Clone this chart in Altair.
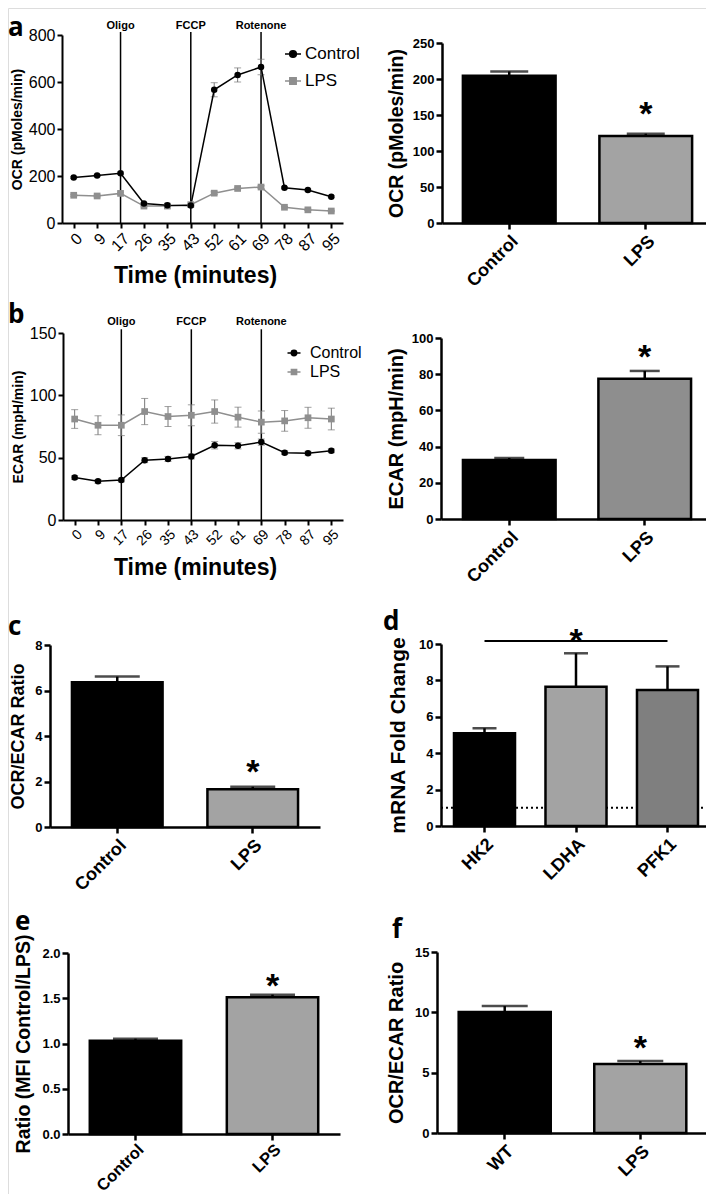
import altair as alt
import pandas as pd

# ---------------- data ----------------
times = ["0", "9", "17", "26", "35", "43", "52", "61", "69", "78", "87", "95"]
series = ["Control", "LPS"]
events = ["Oligo", "FCCP", "Rotenone"]
event_times = ["17", "43", "69"]

ocr_control = [194, 202, 212, 83, 76, 74, 567, 630, 664, 150, 140, 112]
ocr_control_err = [4, 4, 5, 4, 3, 3, 30, 30, 33, 4, 4, 4]
ocr_lps = [118, 115, 126, 72, 72, 78, 127, 147, 153, 67, 56, 51]
ocr_lps_err = [4, 4, 5, 3, 3, 3, 6, 5, 6, 3, 3, 3]

ecar_control = [34, 31, 32, 48, 49, 51, 60, 59.5, 62.5, 54, 53.6, 55.5]
ecar_control_err = [1.5, 1.5, 1.5, 2, 2, 2, 3, 2.5, 2.5, 1.5, 1.5, 1.5]
ecar_lps = [81, 76, 76, 87, 83, 84, 87, 82.5, 78.5, 79.5, 82, 81]
ecar_lps_err = [7.5, 7.6, 8.3, 10.5, 8, 8.4, 9.3, 8, 9, 8.3, 8.4, 8.7]

groups = ["Control", "LPS"]
ocr_bar = [204.5, 121]
ocr_bar_err = [6, 3]
ecar_bar = [32.6, 77.5]
ecar_bar_err = [1.1, 4.3]
ratio_bar = [6.36, 1.66]
ratio_bar_err = [0.25, 0.11]
genes = ["HK2", "LDHA", "PFK1"]
fold_change = [5.09, 7.65, 7.47]
fold_change_err = [0.28, 1.84, 1.30]
fold_baseline = [1]
mfi_ratio = [1.03, 1.51]
mfi_ratio_err = [0.023, 0.03]
wt_groups = ["WT", "LPS"]
ratio2_bar = [10.02, 5.72]
ratio2_bar_err = [0.5, 0.25]

# ---------------- styling / layout ----------------
W, H = 698, 1186
FONT = "Liberation Sans"
LETTER_FONT = "Open Sans"
GRAY = "#8f8f8f"
ERR_GRAY = "#777777"
BAR_LIGHT = "#a3a3a3"
BAR_MID = "#8e8e8e"
BAR_DARK = "#7f7f7f"

CIRC_PATH = "M-1,0L1,0M0.42,0A0.42,0.42,0,1,1,-0.42,0A0.42,0.42,0,1,1,0.42,0Z"
SQ_PATH = "M-1,0L1,0M-0.4,-0.4L0.4,-0.4L0.4,0.4L-0.4,0.4Z"


def mk_axis(**kw):
    base = dict(grid=False, domainColor="black", tickColor="black", labelColor="black",
                titleColor="black", labelFont=FONT, titleFont=FONT,
                labelOverlap=False, labelFlush=False)
    base.update(kw)
    return alt.Axis(**base)


def lin_scale(dom, rng):
    return alt.Scale(type="linear", domain=dom, range=rng, nice=False, zero=False)


def line_panel(ctrl, ctrl_e, lps, lps_e, xr, yr, ydom, yvals, ytitle, ytpad,
               xlab_size, x_ext, x_tpad, xtitle_x, ev_top, ev_lab, legend_kw):
    xs = alt.Scale(type="point", domain=times, range=xr, padding=0.5)
    ys = lin_scale(ydom, yr)

    def frame(v, e):
        d = pd.DataFrame({"t": times, "v": v, "e": e})
        d["lo"] = d.v - d.e
        d["hi"] = d.v + d.e
        return d

    dc, dl = frame(ctrl, ctrl_e), frame(lps, lps_e)
    X = lambda ax=None: alt.X("t:N", scale=xs, axis=ax)
    Y = lambda f="v", ax=None: alt.Y(f"{f}:Q", scale=ys, axis=ax)

    xaxis = mk_axis(orient="bottom", offset=yr[0] - H, labelAngle=315, labelFontSize=xlab_size,
                    labelFontWeight="normal", tickSize=5, tickWidth=2, domainWidth=2, labelPadding=2,
                    title="Time (minutes)", titleFontSize=23, titleFontWeight="bold",
                    minExtent=x_ext, maxExtent=x_ext, titlePadding=x_tpad, titleX=xtitle_x)
    yaxis = mk_axis(orient="left", offset=-xr[0], values=yvals, labelFontSize=16,
                    labelFontWeight="normal", tickSize=5, tickWidth=2, domainWidth=2, labelPadding=2,
                    title=ytitle, titleFontSize=14, titleFontWeight="bold", titlePadding=ytpad)

    layers = []
    layers.append(alt.Chart(dl).mark_line(color=GRAY, strokeWidth=1.5).encode(x=X(xaxis), y=Y("v", yaxis)))
    ev = pd.DataFrame({"t": event_times, "label": events})
    layers.append(alt.Chart(ev).mark_rule(color="black", strokeWidth=1.5).encode(
        x=X(), y=alt.Y(datum=0, scale=ys, axis=None), y2=alt.Y2(datum=ev_top)))
    layers.append(alt.Chart(ev).mark_text(font=FONT, fontSize=11, fontWeight="bold", color="black",
                                          align="center", baseline="alphabetic").encode(
        x=X(), y=alt.Y(datum=ev_lab, scale=ys, axis=None), text="label:N"))
    for d in (dl, dc):
        layers.append(alt.Chart(d).mark_rule(color=ERR_GRAY, strokeWidth=1).encode(
            x=X(), y=Y("lo"), y2=alt.Y2("hi:Q")))
        layers.append(alt.Chart(d).mark_tick(color=ERR_GRAY, thickness=1, size=7).encode(x=X(), y=Y("lo")))
        layers.append(alt.Chart(d).mark_tick(color=ERR_GRAY, thickness=1, size=7).encode(x=X(), y=Y("hi")))
    layers.append(alt.Chart(dc).mark_line(color="black", strokeWidth=1.5).encode(x=X(), y=Y()))
    layers.append(alt.Chart(dl).mark_point(shape="square", filled=True, size=45, color=GRAY, opacity=1)
                  .encode(x=X(), y=Y()))
    layers.append(alt.Chart(dc).mark_point(shape="circle", filled=True, size=42, color="black", opacity=1)
                  .encode(x=X(), y=Y()))

    leg_df = pd.DataFrame({"t": [times[0], times[0]], "v": [ctrl[0], lps[0]], "s": series})
    leg = alt.Legend(orient="none", title=None, labelFont=FONT, labelColor="black",
                     symbolStrokeWidth=1.5, symbolOpacity=1, **legend_kw)
    cscale = alt.Scale(domain=series, range=["black", GRAY])
    layers.append(alt.Chart(leg_df).mark_point(filled=True, opacity=0).encode(
        x=X(), y=Y(),
        fill=alt.Fill("s:N", scale=cscale, legend=leg),
        stroke=alt.Stroke("s:N", scale=cscale, legend=leg),
        shape=alt.Shape("s:N", scale=alt.Scale(domain=series, range=[CIRC_PATH, SQ_PATH]), legend=leg)))
    return layers


def bar_panel(cats, vals, errs, fills, xr, pin, pout, yr, ydom, yvals, ytitle, ytpad, tsize,
              cap, star_cat, star_y, yfmt=None, extra=None, xlsize=18, xlpad=3):
    xs = alt.Scale(type="band", domain=cats, range=xr, paddingInner=pin, paddingOuter=pout)
    ys = lin_scale(ydom, yr)
    df = pd.DataFrame({"c": cats, "v": vals, "e": errs, "f": fills})
    df["hi"] = df.v + df.e
    X = lambda ax=None: alt.X("c:N", scale=xs, axis=ax)
    xaxis = mk_axis(orient="bottom", offset=yr[0] - H, labelAngle=315, labelFontSize=xlsize,
                    labelFontWeight="bold", tickSize=6, tickWidth=2.5, domainWidth=2.5,
                    labelPadding=xlpad, title=None)
    ykw = dict(orient="left", offset=-xr[0], values=yvals, labelFontSize=13, labelFontWeight="bold",
               tickSize=6, tickWidth=2.5, domainWidth=2.5, labelPadding=2, title=ytitle,
               titleFontSize=tsize, titleFontWeight="bold", titlePadding=ytpad)
    if yfmt:
        ykw["format"] = yfmt
    yaxis = mk_axis(**ykw)
    layers = []
    if extra:
        layers += extra(xs, ys)
    layers.append(alt.Chart(df).mark_bar(stroke="black", strokeWidth=2.5).encode(
        x=X(xaxis), y=alt.Y("v:Q", scale=ys, axis=yaxis), fill=alt.Fill("f:N", scale=None)))
    layers.append(alt.Chart(df).mark_rule(color="black", strokeWidth=2.5).encode(
        x=X(), y=alt.Y("v:Q", scale=ys, axis=None), y2=alt.Y2("hi:Q")))
    layers.append(alt.Chart(df).mark_tick(color="black", thickness=2.5, size=cap).encode(
        x=X(), y=alt.Y("hi:Q", scale=ys, axis=None)))
    sd = pd.DataFrame({"c": [star_cat], "s": ["*"]})
    layers.append(alt.Chart(sd).mark_text(font=FONT, fontSize=34, fontWeight="bold", color="black",
                                          align="center", baseline="top", dy=-2).encode(
        x=X(), y=alt.Y(datum=star_y, scale=ys, axis=None), text="s:N"))
    return layers


def d_extra(xs, ys):
    base = pd.DataFrame({"v": fold_baseline, "a": [0], "b": [1]})
    q = alt.Scale(type="linear", domain=[0, 1], range=[433, 703], nice=False, zero=False)
    dotted = alt.Chart(base).mark_rule(color="black", strokeWidth=2, strokeDash=[2, 3]).encode(
        x=alt.X("a:Q", scale=q, axis=None), x2=alt.X2("b:Q"), y=alt.Y("v:Q", scale=ys, axis=None))
    return [dotted]


def d_sig(xs, ys):
    sig = pd.DataFrame({"a": [genes[0]], "b": [genes[-1]], "v": [10.16]})
    return [alt.Chart(sig).mark_rule(color="black", strokeWidth=2).encode(
        x=alt.X("a:N", scale=xs, axis=None), x2=alt.X2("b:N"), y=alt.Y("v:Q", scale=ys, axis=None))]


layers = []
# a (line)
layers += line_panel(ocr_control, ocr_control_err, ocr_lps, ocr_lps_err,
                     xr=[54, 335], yr=[215, 27], ydom=[0, 800], yvals=[0, 200, 400, 600, 800],
                     ytitle="OCR (pMoles/min)", ytpad=4, xlab_size=16, x_ext=36, x_tpad=5, xtitle_x=187,
                     ev_top=813, ev_lab=825,
                     legend_kw=dict(legendX=276, legendY=37, labelFontSize=17, symbolSize=256,
                                    labelOffset=3, rowPadding=10))
# a (bar)
layers += bar_panel(groups, ocr_bar, ocr_bar_err, ["black", BAR_LIGHT], xr=[434, 705], pin=0.321,
                    pout=0.153, yr=[215, 35], ydom=[0, 250], yvals=[0, 50, 100, 150, 200, 250],
                    ytitle="OCR (pMoles/min)", ytpad=6, tsize=19.5, cap=38, star_cat="LPS", star_y=171)
# b (line)
layers += line_panel(ecar_control, ecar_control_err, ecar_lps, ecar_lps_err,
                     xr=[55, 335], yr=[512, 325], ydom=[0, 150], yvals=[0, 50, 100, 150],
                     ytitle="ECAR (mpH/min)", ytpad=4, xlab_size=14, x_ext=30, x_tpad=6, xtitle_x=187,
                     ev_top=153, ev_lab=156.5,
                     legend_kw=dict(legendX=278, legendY=337, labelFontSize=16, symbolSize=169,
                                    labelOffset=8, rowPadding=3))
# b (bar)
layers += bar_panel(groups, ecar_bar, ecar_bar_err, ["black", BAR_MID], xr=[433, 705], pin=0.316,
                    pout=0.162, yr=[511, 330], ydom=[0, 100], yvals=[0, 20, 40, 60, 80, 100],
                    ytitle="ECAR (mpH/min)", ytpad=5, tsize=20, cap=30, star_cat="LPS", star_y=97.2)
# c
layers += bar_panel(groups, ratio_bar, ratio_bar_err, ["black", BAR_LIGHT], xr=[42, 312], pin=0.331,
                    pout=0.162, yr=[819, 637], ydom=[0, 8], yvals=[0, 2, 4, 6, 8],
                    ytitle="OCR/ECAR Ratio", ytpad=7, tsize=18, cap=45, star_cat="LPS", star_y=3.03)
# d
layers += bar_panel(genes, fold_change, fold_change_err, ["black", BAR_LIGHT, BAR_DARK], xr=[433, 703],
                    pin=0.333, pout=0.142, yr=[818, 636], ydom=[0, 10], yvals=[0, 2, 4, 6, 8, 10],
                    ytitle="mRNA Fold Change", ytpad=10, tsize=21, cap=24, star_cat="LDHA", star_y=10.93,
                    extra=lambda xs, ys: d_extra(xs, ys) + d_sig(xs, ys))
# e
layers += bar_panel(groups, mfi_ratio, mfi_ratio_err, ["black", BAR_LIGHT], xr=[60, 332], pin=0.333,
                    pout=0.159, yr=[1126, 945], ydom=[0, 2], yvals=[0, 0.5, 1.0, 1.5, 2.0],
                    ytitle="Ratio (MFI Control/LPS)", ytpad=8, tsize=19.5, cap=45, star_cat="LPS",
                    star_y=1.79, yfmt=".1f", xlsize=16.5, xlpad=1)
# f
layers += bar_panel(wt_groups, ratio2_bar, ratio2_bar_err, ["black", BAR_LIGHT], xr=[429, 700], pin=0.321,
                    pout=0.16, yr=[1125, 944], ydom=[0, 15], yvals=[0, 5, 10, 15],
                    ytitle="OCR/ECAR Ratio", ytpad=8, tsize=20, cap=46, star_cat="LPS", star_y=8.2)

# panel letters
letter_pos = {"a": (0, 28), "b": (0, 315), "c": (0, 627), "d": (375, 622), "e": (7, 922), "f": (384, 930)}
for letter, (lx, ly) in letter_pos.items():
    layers.append(alt.Chart(pd.DataFrame({"L": [letter]})).mark_text(
        font=LETTER_FONT, fontSize=26, fontWeight="bold", color="black", align="left",
        baseline="alphabetic").encode(x=alt.value(lx), y=alt.value(ly), text="L:N"))

chart = alt.layer(*layers).resolve_scale(
    x="independent", y="independent", fill="independent", stroke="independent", shape="independent"
).properties(
    width=W, height=H, autosize=alt.AutoSizeParams(type="none"), padding=0
).configure_view(stroke="transparent").configure(font=FONT)

chart.save("out.html", embed_options={"renderer": "svg", "actions": False})
